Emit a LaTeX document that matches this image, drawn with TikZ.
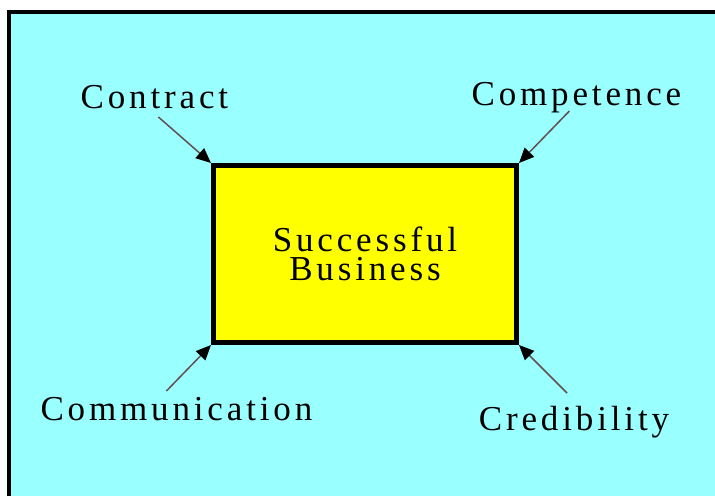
\documentclass[tikz,border=0pt]{standalone}
\usepackage{fontspec}
\setmainfont{Liberation Serif}
\newfontfamily\spaced[LetterSpace=11]{Liberation Serif}
\usetikzlibrary{arrows.meta}
\definecolor{sky}{RGB}{153,255,255}
\definecolor{lemon}{RGB}{255,255,0}
\definecolor{wire}{RGB}{100,80,80}

\begin{document}
\begin{tikzpicture}[x=1pt, y=-1pt, >={Triangle[length=15pt,width=13pt,color=black]},
    tag/.style={inner sep=0pt, anchor=base, font=\spaced\fontsize{35}{28}\selectfont},
    bizbox/.style={draw, line width=5pt, fill=lemon, minimum width=303pt, minimum height=177pt,
        align=center, inner sep=0pt, font=\spaced\fontsize{35}{29}\selectfont},
    feed/.style={->, draw=wire, line width=1.5pt}]
    \useasboundingbox (0,0) rectangle (715,496);

    % Background with its frame
    \fill[white] (0,0) rectangle (715,496);
    \fill[sky] (7,10) rectangle (715,496);
    \draw[line width=4pt] (9,496) -- (9,12) -- (715,12);

    % Nodes {biz, contract, competence, communication, credibility}
    \node [bizbox] (biz) at (365,254) {Successful\\Business};
    \node [tag] (contract)      at (154.4,108) {Contract};
    \node [tag] (competence)    at (576.4,105) {Competence};
    \node [tag] (communication) at (176.4,420) {Communication};
    \node [tag] (credibility)   at (574,430)   {Credibility};

    % Paths
    \draw [feed] ([xshift=4pt,yshift=-9pt]contract.base)       -- (biz.north west);
    \draw [feed] ([xshift=-7pt,yshift=-6pt]competence.base)    -- (biz.north east);
    \draw [feed] ([xshift=-10pt,yshift=29pt]communication.base) -- (biz.south west);
    \draw [feed] ([xshift=-7pt,yshift=37pt]credibility.base)   -- (biz.south east);
\end{tikzpicture}
\end{document}
